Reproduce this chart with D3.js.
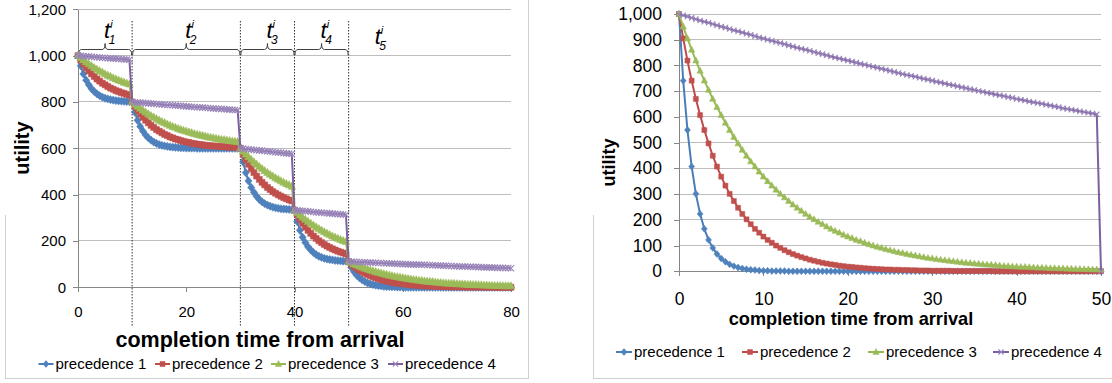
<!DOCTYPE html>
<html><head><meta charset="utf-8">
<script src="https://cdn.jsdelivr.net/npm/d3@7"></script>
<style>
body{margin:0;background:#fff}
svg{display:block}
text{font-family:"Liberation Sans",Arial,sans-serif;fill:#000}
</style>
</head><body>
<svg id="c" width="1112" height="383"></svg>
<script>
const seriesNames = ["precedence 1","precedence 2","precedence 3","precedence 4"];

const leftTime = [0,0.5,1,1.5,2,2.5,3,3.5,4,4.5,5,5.5,6,6.5,7,7.5,8,8.5,9,9.5,
10,10.5,11,11.5,12,12.5,13,13.5,14,14.5,15,15.5,16,16.5,17,17.5,18,18.5,19,19.5,
20,20.5,21,21.5,22,22.5,23,23.5,24,24.5,25,25.5,26,26.5,27,27.5,28,28.5,29,29.5,
30,30.5,31,31.5,32,32.5,33,33.5,34,34.5,35,35.5,36,36.5,37,37.5,38,38.5,39,39.5,
40,40.5,41,41.5,42,42.5,43,43.5,44,44.5,45,45.5,46,46.5,47,47.5,48,48.5,49,49.5,
50,50.5,51,51.5,52,52.5,53,53.5,54,54.5,55,55.5,56,56.5,57,57.5,58,58.5,59,59.5,
60,60.5,61,61.5,62,62.5,63,63.5,64,64.5,65,65.5,66,66.5,67,67.5,68,68.5,69,69.5,
70,70.5,71,71.5,72,72.5,73,73.5,74,74.5,75,75.5,76,76.5,77,77.5,78,78.5,79,79.5,80];

const leftP1 = [1000,956,921,894,874,857,845,835,827,821,816,813,810,808,806,805,804,803,802,802,
800,756,721,694,674,657,645,635,627,621,616,613,610,608,606,605,604,603,602,602,
601,601,601,601,600,600,600,600,600,600,600,600,600,600,600,600,600,600,600,600,
600,541,495,459,431,410,393,379,369,361,355,350,346,343,341,339,338,337,336,335,
333,284,246,216,193,175,161,150,141,134,129,125,122,120,118,116,115,114,113,113,
111,86,67,52,41,32,25,19,15,12,9,7,6,4,3,3,2,2,1,1,
1,0,0,0,0,0,0,0,0,0,0,0,0,0,0,0,0,0,0,0,
0,0,0,0,0,0,0,0,0,0,0,0,0,0,0,0,0,0,0,0,0];

const leftP2 = [1000,981,964,948,934,921,910,899,890,881,874,867,860,855,849,845,840,837,833,830,
800,781,764,748,734,721,710,699,690,681,674,667,660,655,649,645,640,637,633,630,
627,625,622,620,618,616,615,613,612,611,610,609,608,607,607,606,605,605,604,604,
600,575,552,531,512,495,480,466,453,442,431,422,413,406,399,393,387,382,377,373,
333,312,293,276,260,246,233,221,211,201,193,185,178,172,166,161,156,152,148,144,
111,100,91,82,74,67,61,55,50,45,41,37,33,30,27,25,22,20,18,17,
15,14,12,11,10,9,8,7,7,6,5,5,5,4,4,3,3,3,2,2,
2,2,2,1,1,1,1,1,1,1,1,1,1,1,0,0,0,0,0,0,0];

const leftP3 = [1000,990,981,972,964,956,948,941,934,928,921,915,910,904,899,894,890,885,881,877,
800,790,781,772,764,756,748,741,734,728,721,715,710,704,699,694,690,685,681,677,
674,670,667,663,660,657,655,652,649,647,645,642,640,638,637,635,633,631,630,628,
600,587,575,563,552,541,531,521,512,503,495,487,480,472,466,459,453,447,442,436,
333,322,312,302,293,284,276,268,260,253,246,239,233,227,221,216,211,206,201,197,
111,106,100,96,91,86,82,78,74,71,67,64,61,58,55,52,50,47,45,43,
41,39,37,35,33,32,30,29,27,26,25,24,22,21,20,19,18,17,17,16,
15,14,14,13,12,12,11,11,10,10,9,9,8,8,7,7,7,6,6,6,6];

const leftP4 = [1000,999,998,997,996,995,994,993,992,991,990,989,988,987,987,986,985,984,983,982,
800,799,798,797,796,795,794,793,792,791,790,789,788,787,787,786,785,784,783,782,
781,780,779,778,777,777,776,775,774,773,772,771,770,770,769,768,767,766,765,765,
600,599,597,596,595,593,592,591,590,588,587,586,584,583,582,581,579,578,577,576,
333,332,331,330,329,328,326,325,324,323,322,321,320,319,318,317,316,315,314,313,
111,110,110,109,109,108,108,107,107,106,106,105,105,104,104,103,103,102,101,101,
100,100,99,99,98,98,98,97,97,96,96,95,95,94,94,93,93,92,92,91,
91,90,90,90,89,89,88,88,87,87,86,86,86,85,85,84,84,84,83,83,82];

const rightTime = [0,0.5,1,1.5,2,2.5,3,3.5,4,4.5,5,5.5,6,6.5,7,7.5,8,8.5,9,9.5,
10,10.5,11,11.5,12,12.5,13,13.5,14,14.5,15,15.5,16,16.5,17,17.5,18,18.5,19,19.5,
20,20.5,21,21.5,22,22.5,23,23.5,24,24.5,25,25.5,26,26.5,27,27.5,28,28.5,29,29.5,
30,30.5,31,31.5,32,32.5,33,33.5,34,34.5,35,35.5,36,36.5,37,37.5,38,38.5,39,39.5,
40,40.5,41,41.5,42,42.5,43,43.5,44,44.5,45,45.5,46,46.5,47,47.5,48,48.5,49,49.5,50];

const rightP1 = [1000,741,549,407,301,223,165,122,91,67,50,37,27,20,15,11,8,6,5,3,
2,2,1,1,1,1,0,0,0,0,0,0,0,0,0,0,0,0,0,0,
0,0,0,0,0,0,0,0,0,0,0,0,0,0,0,0,0,0,0,0,
0,0,0,0,0,0,0,0,0,0,0,0,0,0,0,0,0,0,0,0,
0,0,0,0,0,0,0,0,0,0,0,0,0,0,0,0,0,0,0,0,0];

const rightP2 = [1000,905,819,741,670,607,549,497,449,407,368,333,301,273,247,223,202,183,165,150,
135,122,111,100,91,82,74,67,61,55,50,45,41,37,33,30,27,25,22,20,
18,17,15,14,12,11,10,9,8,7,7,6,6,5,5,4,4,3,3,3,
2,2,2,2,2,1,1,1,1,1,1,1,1,1,1,0,0,0,0,0,
0,0,0,0,0,0,0,0,0,0,0,0,0,0,0,0,0,0,0,0,0];

const rightP3 = [1000,951,905,861,819,779,741,705,670,638,607,577,549,522,497,472,449,427,407,387,
368,350,333,317,301,287,273,259,247,235,223,212,202,192,183,174,165,157,150,142,
135,129,122,117,111,105,100,95,91,86,82,78,74,71,67,64,61,58,55,52,
50,47,45,43,41,39,37,35,33,32,30,29,27,26,25,24,22,21,20,19,
18,17,17,16,15,14,14,13,12,12,11,11,10,10,9,9,8,8,7,7,7];

const rightP4 = [1000,995,990,985,980,975,970,966,961,956,951,947,942,937,933,928,923,919,914,909,
905,900,896,891,887,883,878,874,869,865,861,857,852,848,844,840,835,831,827,823,
819,815,811,807,803,799,795,791,787,783,779,775,771,767,763,760,756,752,748,745,
741,737,734,730,726,723,719,715,712,708,705,701,698,694,691,687,684,681,677,674,
670,667,664,660,657,654,651,647,644,641,638,634,631,628,625,622,619,616,613,610,0];

const leftYTicks = [0,200,400,600,800,1000,1200];
const leftXTicks = [0,20,40,60,80];
const rightYTicks = [0,100,200,300,400,500,600,700,800,900,1000];
const rightXTicks = [0,10,20,30,40,50];

const phaseBounds = [10,30,40,50];
const braceIntervals = [[0,10],[10,30],[30,40],[40,50]];
const phaseLabels = ["1","2","3","4","5"];
const phaseLabelMid = [5,20,35,45,55];

const axisTitleX = "completion time from arrival";
const axisTitleY = "utility";

// ---------- drawing ----------
const svg = d3.select("#c");
const lineColors = ["#4A7EBB","#BE4B48","#98B954","#7D60A0"];
const fillColors = ["#4F81BD","#C0504D","#9BBB59","#8064A2"];
const markerPath = [
  s => `M0,${-s*1.15}L${s},0L0,${s*1.15}L${-s},0Z`,
  s => `M${-s},${-s}H${s}V${s}H${-s}Z`,
  s => `M0,${-s*1.1}L${s},${s*0.75}L${-s},${s*0.75}Z`,
  s => `M${-s},${-s}L${s},${s}M${-s},${s}L${s},${-s}`
];
const markerSize = [3.0, 2.5, 3.2, 2.6];

// frames
function frame(x1, x2, leftTop, drawRight){
  const f = svg.append("g").attr("stroke","#d0d0d0").attr("fill","none").attr("shape-rendering","crispEdges");
  f.append("line").attr("x1",x1+0.5).attr("x2",x1+0.5).attr("y1",leftTop).attr("y2",378.5);
  f.append("line").attr("x1",x1).attr("x2",x2).attr("y1",378.5).attr("y2",378.5);
  if (drawRight) f.append("line").attr("x1",x2+0.5).attr("x2",x2+0.5).attr("y1",0).attr("y2",378.5);
}
frame(5, 528, 215, true);
frame(593, 1112, 215, false);

function drawChart(o){
  const g = svg.append("g");
  const x = d3.scaleLinear().domain(o.xDomain).range(o.xRange);
  const y = d3.scaleLinear().domain(o.yDomain).range(o.yRange);
  const [x0, x1] = o.xRange;

  g.append("g").attr("shape-rendering","crispEdges").selectAll("line")
    .data(o.yTicks.filter(d => d !== 0)).join("line")
    .attr("x1", x0).attr("x2", x1)
    .attr("y1", d => y(d)).attr("y2", d => y(d))
    .attr("stroke", "#bdbdbd");

  const ya = g.append("g").attr("transform", `translate(${x0},0)`)
    .call(d3.axisLeft(y).tickValues(o.yTicks).tickFormat(d3.format(","))
      .tickSizeInner(5).tickSizeOuter(0).tickPadding(o.yPad));
  const xa = g.append("g").attr("transform", `translate(0,${y(0)})`)
    .call(d3.axisBottom(x).tickValues(o.xTicks).tickFormat(d3.format("d"))
      .tickSizeInner(5).tickSizeOuter(0).tickPadding(o.xPad));
  [ya, xa].forEach(a => {
    a.attr("shape-rendering","crispEdges");
    a.select(".domain").attr("stroke", "#868686");
    a.selectAll(".tick line").attr("stroke", "#868686");
    a.selectAll(".tick text").attr("fill", "#000")
      .style("font-family", "'Liberation Sans',Arial,sans-serif")
      .style("font-size", o.tickFont + "px");
  });

  if (o.annotate) o.annotate(g, x, y);

  o.series.forEach((vals, si) => {
    const pts = o.time.map((t, i) => [t, vals[i]]);
    g.append("path").datum(pts)
      .attr("fill", "none").attr("stroke", lineColors[si]).attr("stroke-width", 2)
      .attr("stroke-linejoin", "round")
      .attr("d", d3.line().x(d => x(d[0])).y(d => y(d[1])));
    const mg = g.append("g");
    mg.selectAll("path").data(pts).join("path")
      .attr("transform", d => `translate(${x(d[0])},${y(d[1])})`)
      .attr("d", markerPath[si](markerSize[si] * o.markerScale))
      .attr("fill", si === 3 ? "none" : fillColors[si])
      .attr("stroke", si === 3 ? "#9A86BA" : fillColors[si])
      .attr("stroke-width", si === 3 ? 1.2 : 0.5);
  });

  g.append("text").attr("x", o.xTitle[0]).attr("y", o.xTitle[1])
    .attr("text-anchor", "middle").style("font-weight", "bold")
    .style("font-size", o.xTitle[2] + "px").text(axisTitleX);
  g.append("text").attr("transform", `translate(${o.yTitle[0]},${o.yTitle[1]}) rotate(-90)`)
    .attr("text-anchor", "middle").style("font-weight", "bold")
    .style("font-size", o.yTitle[2] + "px").text(axisTitleY);

  const lg = g.append("g");
  seriesNames.forEach((name, si) => {
    const sx = o.legendX[si], ly = o.legendY;
    lg.append("line").attr("x1", sx).attr("x2", sx + o.legendLine).attr("y1", ly).attr("y2", ly)
      .attr("stroke", lineColors[si]).attr("stroke-width", 2);
    lg.append("path").attr("transform", `translate(${sx + o.legendLine/2},${ly})`)
      .attr("d", markerPath[si](markerSize[si]))
      .attr("fill", si === 3 ? "none" : fillColors[si])
      .attr("stroke", si === 3 ? "#9A86BA" : fillColors[si])
      .attr("stroke-width", si === 3 ? 1.2 : 0.5);
    lg.append("text").attr("x", sx + o.legendLine + 2).attr("y", ly + 5)
      .style("font-size", o.legendFont + "px").text(name);
  });
}

drawChart({
  xDomain: [0, 80], xRange: [78, 511],
  yDomain: [0, 1200], yRange: [287.3, 9.3],
  yTicks: leftYTicks, xTicks: leftXTicks,
  yPad: 7, xPad: 14, tickFont: 15, markerScale: 1.2,
  time: leftTime, series: [leftP1, leftP2, leftP3, leftP4],
  xTitle: [260, 347, 21.5], yTitle: [28.5, 148, 20],
  legendX: [38.5, 155, 271, 388], legendY: 364, legendLine: 15, legendFont: 15,
  annotate: (g, x, y) => {
    const ag = g.append("g");
    ag.selectAll("line").data(phaseBounds).join("line")
      .attr("x1", d => x(d)).attr("x2", d => x(d))
      .attr("y1", 21).attr("y2", 326)
      .attr("stroke", "#333").attr("stroke-width", 1).attr("stroke-dasharray", "1.5,1.5");
    const yb = 49.5;
    ag.selectAll("path").data(braceIntervals).join("path")
      .attr("fill", "none").attr("stroke", "#404040").attr("stroke-width", 1)
      .attr("d", d => {
        const xa = x(d[0]) + 0.5, xb = x(d[1]) - 0.5, m = (xa + xb) / 2;
        return `M${xa},55 Q${xa},${yb} ${xa+3},${yb} L${m-3},${yb} Q${m},${yb} ${m},${yb-6} ` +
               `Q${m},${yb} ${m+3},${yb} L${xb-3},${yb} Q${xb},${yb} ${xb},55`;
      });
    phaseLabels.forEach((lab, i) => {
      const t = ag.append("text").attr("x", x(phaseLabelMid[i]) - 1)
        .attr("y", i === 4 ? 44 : 38).style("font-style", "italic").style("font-size", "22px");
      t.append("tspan").text("t");
      t.append("tspan").attr("dy", -10).style("font-size", "11px").text("i");
      t.append("tspan").attr("dx", -4).attr("dy", 16).style("font-size", "12px").text(lab);
    });
  }
});

drawChart({
  xDomain: [0, 50], xRange: [679, 1101],
  yDomain: [0, 1000], yRange: [271.3, 14],
  yTicks: rightYTicks, xTicks: rightXTicks,
  yPad: 12, xPad: 16.5, tickFont: 17.5, markerScale: 1,
  time: rightTime, series: [rightP1, rightP2, rightP3, rightP4],
  xTitle: [851, 325, 18.2], yTitle: [615, 162.5, 18],
  legendX: [616, 742, 868, 993], legendY: 352, legendLine: 16, legendFont: 15
});
</script>
</body></html>
